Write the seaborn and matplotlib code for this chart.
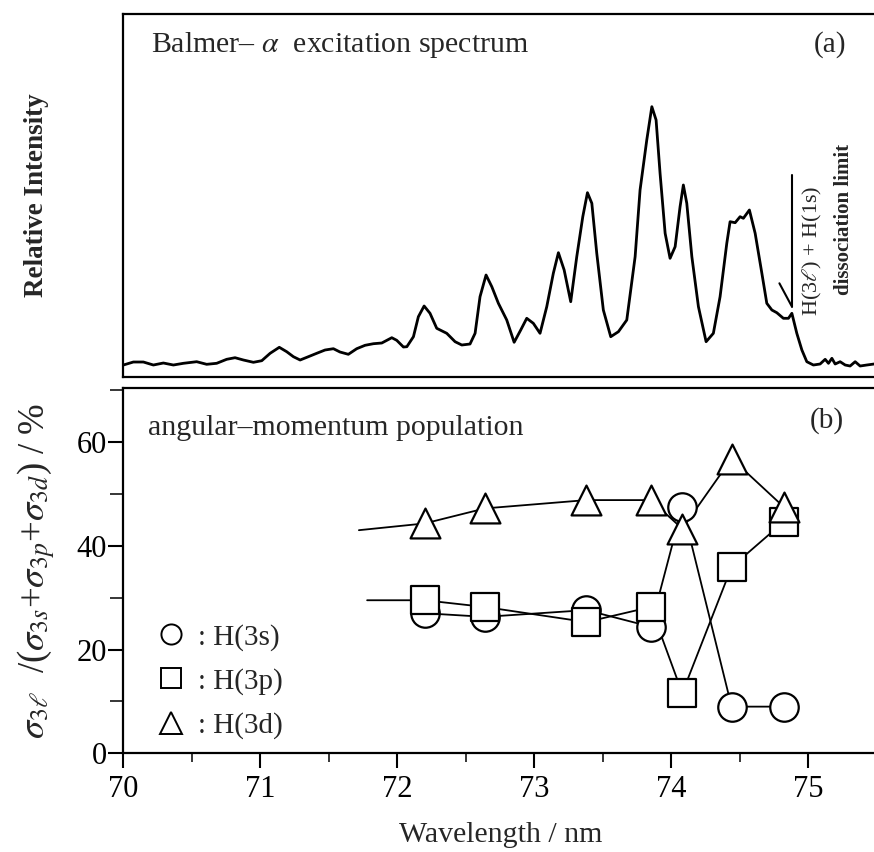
import numpy as np
import pandas as pd
import matplotlib
matplotlib.use("Agg")
import matplotlib.pyplot as plt
import seaborn as sns
from matplotlib.lines import Line2D
from matplotlib.ticker import MultipleLocator

# ---------------- data ----------------
# (a) Balmer-alpha excitation spectrum, relative intensity (arb. units)
spec_wl = [70.001, 70.074, 70.147, 70.220, 70.293, 70.366, 70.439, 70.536, 70.609, 70.682,
           70.755, 70.816, 70.877, 70.950, 71.011, 71.072, 71.139, 71.193, 71.242, 71.291,
           71.351, 71.412, 71.473, 71.534, 71.582, 71.643, 71.704, 71.765, 71.826, 71.887,
           71.960, 71.996, 72.045, 72.070, 72.118, 72.154, 72.196, 72.239, 72.288, 72.361,
           72.422, 72.471, 72.531, 72.568, 72.604, 72.648, 72.690, 72.738, 72.799, 72.853,
           72.901, 72.945, 72.993, 73.042, 73.091, 73.139, 73.176, 73.218, 73.266, 73.310,
           73.354, 73.388, 73.420, 73.456, 73.504, 73.558, 73.614, 73.675, 73.736, 73.772,
           73.821, 73.858, 73.889, 73.918, 73.955, 73.991, 74.028, 74.064, 74.088, 74.113,
           74.150, 74.198, 74.254, 74.307, 74.356, 74.405, 74.429, 74.466, 74.502, 74.526,
           74.570, 74.612, 74.661, 74.697, 74.734, 74.770, 74.818, 74.855, 74.880, 74.916,
           74.953, 74.989, 75.037, 75.086, 75.123, 75.147, 75.172, 75.196, 75.232, 75.269,
           75.305, 75.342, 75.378, 75.427, 75.480]
spec_int = [12.0, 15.0, 15.0, 12.0, 14.0, 12.0, 13.7, 15.3, 12.7, 13.7,
            17.7, 19.3, 17.0, 14.7, 16.3, 23.7, 29.7, 25.3, 20.3, 17.0,
            20.3, 23.7, 27.0, 28.3, 25.0, 22.7, 28.3, 31.7, 33.3, 34.0,
            39.3, 36.7, 30.0, 30.3, 40.3, 60.3, 71.0, 63.7, 48.7, 43.7,
            35.3, 32.0, 33.0, 43.7, 80.3, 102.0, 90.3, 73.7, 57.0, 34.7,
            47.0, 58.7, 53.7, 43.7, 70.3, 103.7, 124.3, 107.0, 75.3, 120.3,
            160.3, 184.3, 173.7, 123.7, 67.0, 40.3, 45.3, 57.0, 120.3, 187.0,
            237.0, 270.3, 257.0, 203.7, 143.7, 118.7, 130.3, 170.3, 192.0, 173.7,
            120.3, 70.3, 35.3, 43.7, 80.3, 133.7, 155.3, 154.3, 160.3, 158.7,
            167.0, 143.7, 103.7, 73.7, 67.0, 64.3, 58.7, 58.7, 63.7, 43.7,
            27.0, 15.3, 12.0, 13.0, 17.7, 13.7, 18.7, 13.0, 15.3, 12.0,
            11.0, 15.3, 11.0, 12.0, 13.0]

# dissociation-limit marker H(3l) + H(1s)
limit_line_wl = [74.882, 74.882]
limit_line_int = [70.0, 202.0]
limit_tick_wl = [74.789, 74.878]
limit_tick_int = [93.7, 71.0]

# (b) angular-momentum population  sigma_3l / (sigma_3s + sigma_3p + sigma_3d) / %
pop_wl = [72.20, 72.64, 73.38, 73.85, 74.08, 74.44, 74.82]
pop_3s = [27.0, 26.3, 27.6, 24.4, 47.5, 9.0, 9.0]
pop_3p = [29.5, 28.2, 25.3, 28.2, 11.6, 35.9, 44.6]
pop_3d = [44.3, 47.2, 48.8, 48.8, 43.3, 56.8, 47.5]
lead_3p = (71.78, 29.5)   # guide line entering the first point
lead_3d = (71.72, 43.0)

x_ticks = [70, 71, 72, 73, 74, 75]
y_ticks = [0, 20, 40, 60]

# ---------------- style ----------------
sns.set_theme(style="white")
plt.rcParams["font.family"] = ["Liberation Serif", "DejaVu Serif"]
plt.rcParams["mathtext.fontset"] = "stix"
plt.rcParams["axes.edgecolor"] = "black"
plt.rcParams["axes.linewidth"] = 1.6

fig = plt.figure(figsize=(8.74, 8.52), dpi=100)
ax1 = fig.add_axes([0.1410, 0.5575, 0.8696, 0.4261])
ax2 = fig.add_axes([0.1410, 0.1158, 0.8696, 0.4288])
XMIN, XMAX = 70.0, 75.547

# ---------------- panel (a) ----------------
spec = pd.DataFrame({"wl": spec_wl, "I": spec_int})
sns.lineplot(data=spec, x="wl", y="I", ax=ax1, color="black", lw=2.0,
             sort=False, estimator=None)
sns.lineplot(x=limit_line_wl, y=limit_line_int, ax=ax1, color="black", lw=1.5,
             sort=False, estimator=None)
sns.lineplot(x=limit_tick_wl, y=limit_tick_int, ax=ax1, color="black", lw=1.5,
             sort=False, estimator=None)
ax1.set_xlim(XMIN, XMAX)
ax1.set_ylim(0, 363)
ax1.set_xticks([])
ax1.set_yticks([])
ax1.set_xlabel("")
ax1.set_ylabel("Relative Intensity", fontsize=19.5, fontweight="bold",
               ha="center", va="center")
ax1.yaxis.set_label_coords(-0.1147, 0.5)
ax1.text(0.0360, 0.915, "Balmer\u2013 $\\alpha$  excitation spectrum", transform=ax1.transAxes,
         ha="left", va="center", fontsize=21.5)
ax1.text(0.930, 0.915, "(a)", transform=ax1.transAxes, ha="center", va="center", fontsize=21)
ax1.text(75.03, 126, "H(3$\\ell$) + H(1s)", rotation=90, ha="center", va="center", fontsize=16)
ax1.text(75.26, 158, "dissociation limit", rotation=90, ha="center", va="center",
         fontsize=15, fontweight="bold")

# ---------------- panel (b) ----------------
series = [
    ("H(3s)", pop_3s, None, "o", 20.5, 3),
    ("H(3p)", pop_3p, lead_3p, "s", 20.0, 4),
    ("H(3d)", pop_3d, lead_3d, "^", 21.5, 5),
]
for name, vals, lead, mk, ms, z in series:
    lx = ([lead[0]] if lead else []) + pop_wl
    ly = ([lead[1]] if lead else []) + vals
    sns.lineplot(x=lx, y=ly, ax=ax2, color="black", lw=1.3, sort=False,
                 estimator=None, zorder=2)
    sns.scatterplot(x=pop_wl, y=vals, ax=ax2, marker=mk, s=ms ** 2, color="white",
                    edgecolor="black", linewidth=1.6, zorder=z)

ax2.set_xlim(XMIN, XMAX)
ax2.set_ylim(0, 70.4)
ax2.set_xticks(x_ticks)
ax2.set_yticks(y_ticks)
ax2.xaxis.set_minor_locator(MultipleLocator(0.5))
ax2.yaxis.set_minor_locator(MultipleLocator(10))
ax2.tick_params(axis="both", which="major", direction="out", length=11, width=1.5,
                labelsize=22, color="black", labelcolor="black")
ax2.tick_params(axis="x", which="major", pad=4.5, bottom=True)
ax2.tick_params(axis="y", which="major", pad=1, left=True)
ax2.tick_params(axis="x", which="minor", direction="out", length=6.5, width=1.3, bottom=True)
ax2.tick_params(axis="y", which="minor", direction="out", length=9.5, width=1.3, left=True)

ax2.set_xlabel("Wavelength / nm", fontsize=21.5, ha="center", va="center")
ax2.xaxis.set_label_coords(0.496, -0.2237)
ax2.set_ylabel("$\\sigma_{3\\ell}$  /($\\sigma_{3s}$+$\\sigma_{3p}$+$\\sigma_{3d}$) / %",
               fontsize=26.5, ha="center", va="center")
ax2.yaxis.set_label_coords(-0.1137, 0.5)

ax2.text(0.0326, 0.890, "angular\u2013momentum population", transform=ax2.transAxes,
         ha="left", va="center", fontsize=21.5)
ax2.text(0.926, 0.912, "(b)", transform=ax2.transAxes, ha="center", va="center", fontsize=21)

handles = [
    Line2D([], [], ls="none", marker="o", ms=14.5, mfc="white", mec="black", mew=1.4),
    Line2D([], [], ls="none", marker="s", ms=14.5, mfc="white", mec="black", mew=1.4),
    Line2D([], [], ls="none", marker="^", ms=15.5, mfc="white", mec="black", mew=1.4),
]
labels = [": " + s[0] for s in series]
ax2.legend(handles, labels, loc="lower left", bbox_to_anchor=(0.044, 0.038),
           frameon=False, fontsize=21, handlelength=1.0, handletextpad=0.4,
           labelspacing=0.6, borderpad=0, borderaxespad=0)

for ax in (ax1, ax2):
    for sp in ax.spines.values():
        sp.set_visible(True)
        sp.set_color("black")
        sp.set_linewidth(1.6)

fig.savefig("out.png", dpi=100, facecolor="white")
